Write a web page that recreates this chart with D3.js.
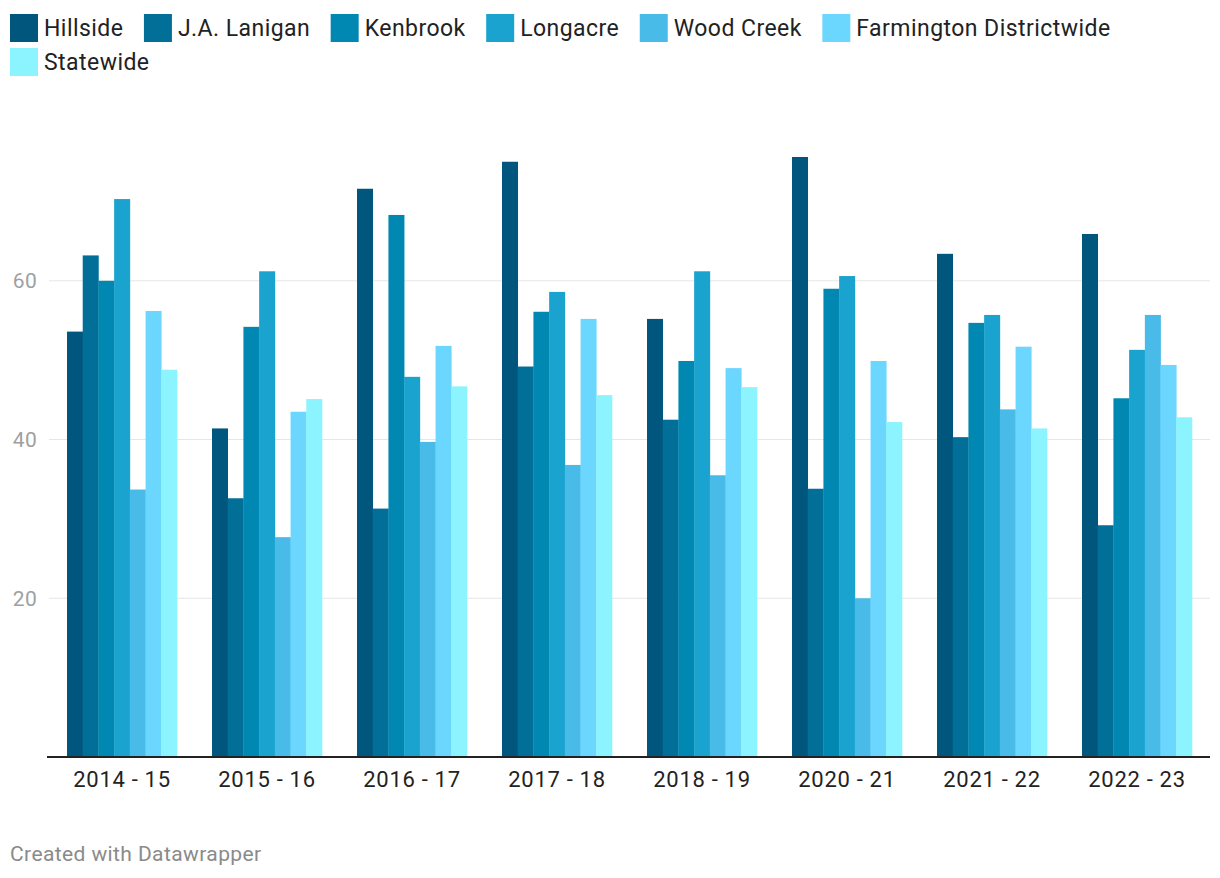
<!DOCTYPE html>
<html><head><meta charset="utf-8">
<script src="https://cdn.jsdelivr.net/npm/d3@7"></script>
<style>body{margin:0;background:#fff;font-family:Roboto,sans-serif}</style>
</head><body><svg id="c" width="1220" height="878"></svg>
<script>
const years = ["2014 - 15","2015 - 16","2016 - 17","2017 - 18","2018 - 19","2020 - 21","2021 - 22","2022 - 23"];
const seriesNames = ["Hillside","J.A. Lanigan","Kenbrook","Longacre","Wood Creek","Farmington Districtwide","Statewide"];
const colors = ["#01567d","#016f98","#0188b2","#1aa3cf","#48bbe8","#6bd7fe","#8cf4fe"];
const hillside   = [53.6,41.4,71.6,75.0,55.2,75.6,63.4,65.9];
const lanigan    = [63.2,32.6,31.3,49.2,42.5,33.8,40.3,29.2];
const kenbrook   = [60.0,54.2,68.3,56.1,49.9,59.0,54.7,45.2];
const longacre   = [70.3,61.2,47.9,58.6,61.2,60.6,55.7,51.3];
const woodCreek  = [33.7,27.7,39.7,36.8,35.5,20.0,43.8,55.7];
const farmington = [56.2,43.5,51.8,55.2,49.0,49.9,51.7,49.4];
const statewide  = [48.8,45.1,46.7,45.6,46.6,42.2,41.4,42.8];
const yTicks = [20,40,60];
const series = [hillside,lanigan,kenbrook,longacre,woodCreek,farmington,statewide];

const svg = d3.select("#c");
const y = d3.scaleLinear().domain([0,75.6]).range([757,157]);
const x0 = d3.scaleBand().domain(years).range([49.5,1209.5]).paddingInner(35/145).paddingOuter(0.1207);
const x1 = d3.scaleBand().domain(seriesNames).range([0,x0.bandwidth()]);

// gridlines
const g = svg.append("g");
g.selectAll("line.grid").data(yTicks).join("line")
  .attr("x1",49).attr("x2",1210).attr("y1",d=>y(d)).attr("y2",d=>y(d))
  .attr("stroke","#e6e6e6").attr("stroke-width",1);
g.selectAll("text.yl").data(yTicks).join("text")
  .attr("x",37).attr("y",d=>y(d)).attr("dy","0.35em").attr("text-anchor","end")
  .attr("fill","#a0a0a0").attr("font-size",21).attr("letter-spacing",0.3).text(d=>d);

// bars
const groups = svg.append("g").selectAll("g").data(years).join("g")
  .attr("transform",d=>`translate(${x0(d)},0)`);
groups.selectAll("rect").data((d,i)=>seriesNames.map((s,j)=>({s,v:series[j][i],j}))).join("rect")
  .attr("x",d=>x1(d.s)).attr("width",x1.bandwidth()+0.3)
  .attr("y",d=>y(d.v)).attr("height",d=>y(0)-y(d.v))
  .attr("fill",d=>colors[d.j]);

// x axis
svg.append("line").attr("x1",47).attr("x2",1210).attr("y1",757).attr("y2",757)
  .attr("stroke","#222").attr("stroke-width",2);
svg.append("g").selectAll("text").data(years).join("text")
  .attr("x",d=>x0(d)+x0.bandwidth()/2).attr("y",787).attr("text-anchor","middle")
  .attr("fill","#222").attr("font-size",22).attr("letter-spacing",0.7).text(d=>d);

// legend
const lg = svg.append("g");
let lx = 10, ly = 14;
seriesNames.forEach((s,i)=>{
  const t = lg.append("text").attr("font-size",23).attr("letter-spacing",0.45).attr("fill","#222").text(s);
  const w = t.node().getComputedTextLength();
  if (lx + 34 + w > 1215) { lx = 10; ly += 34; }
  lg.append("rect").attr("x",lx).attr("y",ly).attr("width",28).attr("height",28).attr("fill",colors[i]);
  t.attr("x",lx+34).attr("y",ly+14).attr("dy","0.35em");
  lx += 34 + w + 20.5;
});

svg.append("text").attr("x",10).attr("y",861).attr("fill","#8a8a8a").attr("font-size",21).attr("letter-spacing",0.4).text("Created with Datawrapper");
</script></body></html>
